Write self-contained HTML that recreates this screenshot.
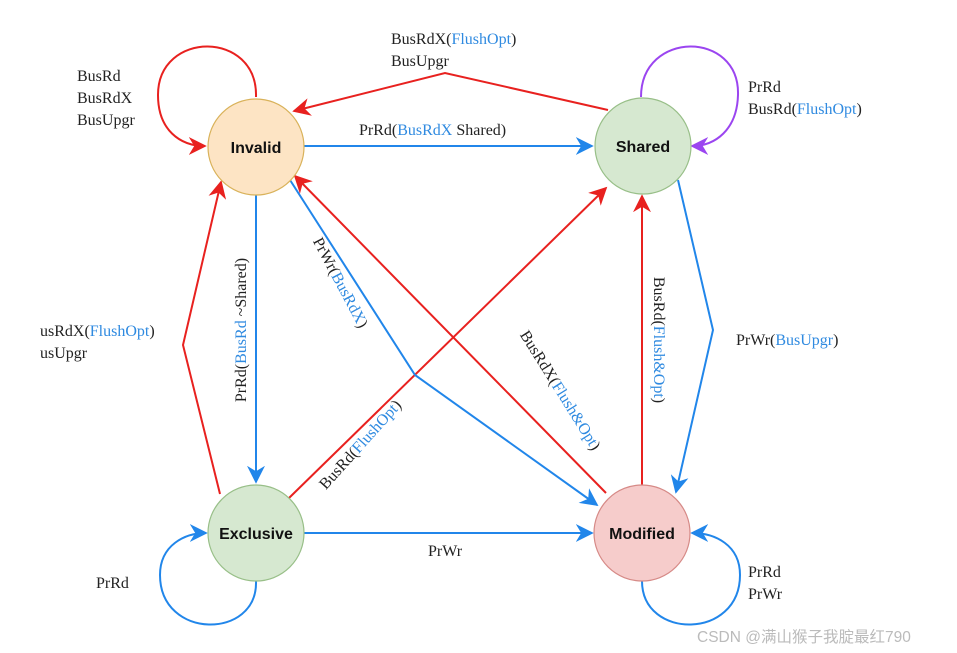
<!DOCTYPE html>
<html><head><meta charset="utf-8"><style>
html,body{margin:0;padding:0;background:#fff;}
svg{display:block;}
text{font-family:"Liberation Serif",serif;font-size:16px;fill:#222;}
.b{fill:#2f8ae0;}
.n{font-family:"Liberation Sans",sans-serif;font-weight:bold;font-size:16px;fill:#111;}
</style></head><body>
<svg width="957" height="653" viewBox="0 0 957 653" xmlns="http://www.w3.org/2000/svg">
<defs>
<marker id="ar" viewBox="0 0 10 10" refX="9" refY="5" markerWidth="9" markerHeight="9" orient="auto"><path d="M0,0 L10,5 L0,10 L3,5z" fill="#e8211f"/></marker>
<marker id="ab" viewBox="0 0 10 10" refX="9" refY="5" markerWidth="9" markerHeight="9" orient="auto"><path d="M0,0 L10,5 L0,10 L3,5z" fill="#2186ea"/></marker>
<marker id="ap" viewBox="0 0 10 10" refX="9" refY="5" markerWidth="9" markerHeight="9" orient="auto"><path d="M0,0 L10,5 L0,10 L3,5z" fill="#9b45f0"/></marker>
</defs>
<g fill="none" stroke-width="2">
<path d="M256,97 C258,30 158,30 158,95 C158,130 180,146 205,146" stroke="#e8211f" marker-end="url(#ar)"/>
<path d="M608,110 L445,73 L294,111" stroke="#e8211f" marker-end="url(#ar)"/>
<path d="M220,494 L183,345 L221,182" stroke="#e8211f" marker-end="url(#ar)"/>
<path d="M606,493 L295,176" stroke="#e8211f" marker-end="url(#ar)"/>
<path d="M289,498 L606,188" stroke="#e8211f" marker-end="url(#ar)"/>
<path d="M642,485 L642,196" stroke="#e8211f" marker-end="url(#ar)"/>
<path d="M641,97 C641,30 740,30 738,95 C737,130 715,146 692,146" stroke="#9b45f0" marker-end="url(#ap)"/>
<path d="M304,146 L592,146" stroke="#2186ea" marker-end="url(#ab)"/>
<path d="M256,195 L256,482" stroke="#2186ea" marker-end="url(#ab)"/>
<path d="M290,180 L415,375 L597,505" stroke="#2186ea" marker-end="url(#ab)"/>
<path d="M678,180 L713,330 L676,492" stroke="#2186ea" marker-end="url(#ab)"/>
<path d="M304,533 L592,533" stroke="#2186ea" marker-end="url(#ab)"/>
<path d="M256,581 C258,640 160,640 160,575 C160,545 185,533 206,533" stroke="#2186ea" marker-end="url(#ab)"/>
<path d="M642,581 C642,640 740,640 740,575 C740,545 715,533 692,533" stroke="#2186ea" marker-end="url(#ab)"/>
</g>
<circle cx="256" cy="147" r="48" fill="#fde4c4" stroke="#d9b25a" stroke-width="1.2"/>
<circle cx="643" cy="146" r="48" fill="#d6e8d0" stroke="#98bf88" stroke-width="1.2"/>
<circle cx="256" cy="533" r="48" fill="#d6e8d0" stroke="#98bf88" stroke-width="1.2"/>
<circle cx="642" cy="533" r="48" fill="#f6cccb" stroke="#d68a87" stroke-width="1.2"/>
<text class="n" x="256" y="153" text-anchor="middle">Invalid</text>
<text class="n" x="643" y="152" text-anchor="middle">Shared</text>
<text class="n" x="256" y="539" text-anchor="middle">Exclusive</text>
<text class="n" x="642" y="539" text-anchor="middle">Modified</text>
<text x="77" y="81">BusRd</text>
<text x="77" y="103">BusRdX</text>
<text x="77" y="125">BusUpgr</text>
<text x="391" y="44">BusRdX(<tspan class="b">FlushOpt</tspan>)</text>
<text x="391" y="66">BusUpgr</text>
<text x="748" y="92">PrRd</text>
<text x="748" y="114">BusRd(<tspan class="b">FlushOpt</tspan>)</text>
<text x="359" y="135">PrRd(<tspan class="b">BusRdX</tspan> Shared)</text>
<text x="40" y="336">usRdX(<tspan class="b">FlushOpt</tspan>)</text>
<text x="40" y="358">usUpgr</text>
<text x="736" y="345">PrWr(<tspan class="b">BusUpgr</tspan>)</text>
<text x="428" y="556">PrWr</text>
<text x="96" y="588">PrRd</text>
<text x="748" y="577">PrRd</text>
<text x="748" y="599">PrWr</text>
<text transform="translate(246,330) rotate(-90)" text-anchor="middle">PrRd(<tspan class="b">BusRd</tspan> ~Shared)</text>
<text transform="translate(336,285) rotate(62)" text-anchor="middle">PrWr(<tspan class="b">BusRdX</tspan>)</text>
<text transform="translate(556,393) rotate(58)" text-anchor="middle">BusRdX(<tspan class="b">Flush&amp;Opt</tspan>)</text>
<text transform="translate(364,448) rotate(-48)" text-anchor="middle">BusRd(<tspan class="b">FlushOpt</tspan>)</text>
<text transform="translate(654,340) rotate(90)" text-anchor="middle">BusRd(<tspan class="b">Flush&amp;Opt</tspan>)</text>
<text x="697" y="642" style="font-family:'Liberation Sans','Noto Sans CJK SC',sans-serif;font-size:15.5px;fill:#bbb">CSDN @满山猴子我腚最红790</text>
</svg>
</body></html>
